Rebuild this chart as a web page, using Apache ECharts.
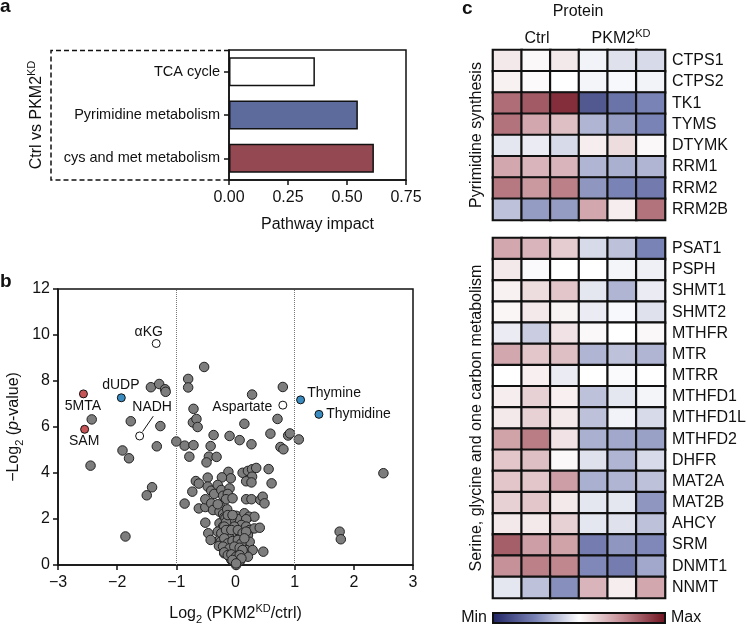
<!DOCTYPE html>
<html><head><meta charset="utf-8">
<script src="https://cdn.jsdelivr.net/npm/echarts/dist/echarts.min.js"></script>
<style>html,body{margin:0;padding:0;background:#fff}#c{width:748px;height:624px}</style>
</head><body><div id="c"></div>
<script>
// ---------- DATA ----------
const pathways = ['TCA cycle', 'Pyrimidine metabolism', 'cys and met metabolism'];
const pathwayImpact = [0.364, 0.546, 0.614];
const impactTicks = [0, 0.25, 0.5, 0.75];

// volcano: [log2 fold change, -log2 p]
const volcanoGray = [
 [-2.43,6.33],[-2.45,4.32],[-1.77,6.25],[-1.27,6.04],[-1.91,4.98],[-1.80,4.64],[-1.33,5.16],[-1.41,3.38],[-1.50,3.03],[-1.86,1.24],
 [-1.43,7.73],[-1.29,7.87],[-1.19,7.64],[-1.18,7.53],[-1.00,5.37],
 [-0.53,8.61],[-0.80,8.09],[-0.80,7.72],[0.80,7.74],[0.28,7.41],[-0.71,6.79],[-0.72,6.20],[-0.66,6.35],[-0.64,6.00],[0.15,6.14],[0.71,6.35],
 [-0.86,5.19],[-0.71,5.21],[-0.37,5.65],[-0.42,5.17],[-0.10,5.61],[0.07,5.43],[0.27,5.25],[0.59,5.71],[0.89,5.63],[0.92,5.72],[1.07,5.46],[0.76,5.13],[0.81,5.03],
 [-0.78,4.71],[-0.45,4.71],[-0.49,4.46],[-0.32,4.70],
 [-0.12,4.05],[-0.08,3.77],[0.12,4.01],[0.21,4.09],[0.28,4.16],[0.35,4.22],[0.56,4.17],[0.28,3.84],[0.18,3.64],[0.27,3.59],[0.61,3.55],
 [-0.47,3.80],[-0.23,3.81],[-0.67,3.65],[-0.62,3.54],[-0.73,3.19],[-0.86,2.67],[-0.62,2.46],[-0.51,2.52],[-0.51,2.86],[-0.51,1.84],
 [2.50,3.99],[1.76,1.45],[1.78,1.12],
 [-0.47,3.41],[-0.41,3.23],[-0.36,3.09],[-0.30,3.48],[-0.24,3.26],[-0.21,3.01],[-0.10,3.33],[-0.13,3.09],[-0.16,2.86],[-0.05,2.90],
 [0.18,2.86],[0.27,2.86],[0.42,2.83],[0.46,2.97],[0.49,2.68],
 [-0.41,2.68],[-0.38,2.39],[-0.27,2.61],[-0.27,2.32],[-0.21,2.22],[-0.14,2.42],[-0.19,2.07],[-0.10,2.10],[-0.05,1.93],[0.01,2.14],[0.06,2.00],[0.15,2.25],
 [0.23,2.10],[0.32,2.10],[0.18,1.99],
 [-0.27,1.81],[-0.21,1.67],[-0.13,1.74],[-0.05,1.59],[0.04,1.55],[0.10,1.74],[0.18,1.67],[0.24,1.52],[0.32,1.59],[0.41,1.62],
 [-0.30,1.45],[-0.21,1.30],[-0.16,1.45],[-0.07,1.30],[0.01,1.38],[0.08,1.38],[0.15,1.23],[0.21,1.30],
 [-0.27,1.09],[-0.19,1.01],[-0.10,1.16],[-0.02,1.01],[0.07,1.01],[0.12,0.87],[0.24,1.01],
 [-0.24,0.80],[-0.16,0.72],[-0.07,0.65],[0.01,0.72],[0.10,0.65],[0.18,0.65],[0.29,0.65],
 [-0.19,0.51],[-0.10,0.36],[-0.02,0.43],[0.07,0.39],[0.15,0.51],[0.21,0.36],
 [-0.07,0.22],[0.01,0.14],[0.08,0.19],[0.01,0.00],
 [-0.46,1.38],[-0.42,1.09],[0.47,0.58],
 [-0.17,2.03],[-0.07,2.03],[-0.16,1.86],[-0.19,1.67],[-0.02,1.67],
 [-0.24,1.38],[-0.16,1.52],[-0.07,1.52],[0.04,1.52],[0.12,1.38],[0.18,1.45],
 [-0.25,1.01],[-0.19,1.16],[-0.13,0.94],[-0.05,1.04],[0.04,1.09],[0.10,0.94],[0.15,1.16],
 [-0.28,0.83],[-0.21,0.80],[-0.10,0.72],[-0.02,0.80],[0.07,0.75],[0.12,0.65],
 [-0.19,0.55],[-0.13,0.43],[-0.07,0.46],[0.01,0.36],[0.07,0.43],[0.10,0.29],[-0.05,0.22],[0.01,0.07],
 [-0.30,2.64],[-0.13,2.17],[-0.05,2.17]
];
const volcanoRed = [['5MTA',-2.57,7.44],['SAM',-2.55,5.90]];
const volcanoBlue = [['dUDP',-1.93,7.27],['Thymine',1.10,7.18],['Thymidine',1.41,6.55]];
const volcanoOpen = [['αKG',-1.34,9.63],['NADH',-1.62,5.61],['Aspartate',0.80,6.95]];
const foldThresholds = [-1, 1];

// heatmap (relative expression, -1 = min, 1 = max); columns: Ctrl x3, PKM2KD x3
const heatColumns = ['Ctrl 1','Ctrl 2','Ctrl 3','KD 1','KD 2','KD 3'];
const pyrGenes = ['CTPS1','CTPS2','TK1','TYMS','DTYMK','RRM1','RRM2','RRM2B'];
const pyrValues = [
 [0.10,0.03,0.10,-0.05,-0.12,-0.15],
 [0.06,0.02,0.00,-0.04,-0.03,-0.05],
 [0.62,0.70,0.88,-0.72,-0.58,-0.50],
 [0.60,0.38,0.28,-0.30,-0.40,-0.50],
 [-0.10,-0.08,-0.15,0.08,0.15,0.03],
 [0.38,0.32,0.32,-0.30,-0.32,-0.30],
 [0.58,0.45,0.55,-0.42,-0.50,-0.54],
 [-0.25,-0.40,-0.40,0.38,0.08,0.60]
];
const sgocGenes = ['PSAT1','PSPH','SHMT1','SHMT2','MTHFR','MTR','MTRR','MTHFD1','MTHFD1L','MTHFD2','DHFR','MAT2A','MAT2B','AHCY','SRM','DNMT1','NNMT'];
const sgocValues = [
 [0.38,0.32,0.22,-0.15,-0.25,-0.50],
 [0.10,-0.02,0.00,0.00,-0.04,-0.06],
 [0.06,0.15,0.25,-0.10,-0.30,-0.08],
 [0.04,0.10,0.05,-0.08,-0.03,-0.12],
 [-0.08,-0.20,0.12,0.03,0.00,0.03],
 [0.38,0.25,0.28,-0.30,-0.25,-0.30],
 [0.00,0.07,-0.08,0.00,-0.02,0.00],
 [0.08,0.20,0.07,-0.25,-0.10,-0.04],
 [0.10,0.20,0.10,-0.25,-0.05,-0.15],
 [0.40,0.56,0.12,-0.32,-0.35,-0.38],
 [0.25,0.28,0.03,-0.12,-0.30,-0.15],
 [0.25,0.25,0.42,-0.32,-0.30,-0.25],
 [0.20,0.25,0.10,-0.10,-0.10,-0.42],
 [0.10,0.10,0.20,-0.10,-0.12,-0.25],
 [0.68,0.42,0.40,-0.53,-0.42,-0.48],
 [0.48,0.55,0.52,-0.48,-0.53,-0.35],
 [-0.10,-0.25,-0.45,0.32,0.08,0.38]
];
const colorScaleLabels = ['Min', 'Max'];

// ---------- STYLE ----------
const FONT = '"Liberation Sans", Arial, Helvetica, sans-serif';
const INK = '#111';
const barColors = ['#ffffff', '#5d6a9c', '#944851'];
const heatColors = ['#1f2363', '#7a83b5', '#ffffff', '#c48c94', '#6e101d'];
const SPECIAL_SIZE = 8;
const labelOffsets = {
  '5MTA':[0,13], 'SAM':[0,12], 'dUDP':[0,-12], 'Thymine':[34,-6], 'Thymidine':[40,0],
  'αKG':[-7,-11], 'NADH':[13,-28], 'Aspartate':[-40,2]
};
const minus = v => (v < 0 ? '\u2212' + Math.abs(v) : String(v));

function axisBase(extra) {
  return Object.assign({
    axisLine: {show: true, onZero: false, lineStyle: {color: INK, width: 1.5}},
    axisTick: {show: true, length: 5, lineStyle: {color: INK, width: 1.5}},
    axisLabel: {color: INK, fontSize: 16, fontFamily: FONT},
    splitLine: {show: false}
  }, extra);
}
const nameStyle = {
  fontSize: 16, color: INK, fontFamily: FONT, lineHeight: 22,
  rich: {
    sub: {fontSize: 11, verticalAlign: 'bottom', lineHeight: 13, color: INK, fontFamily: FONT},
    sup: {fontSize: 11, verticalAlign: 'top', lineHeight: 13, color: INK, fontFamily: FONT},
    it: {fontSize: 16, fontStyle: 'italic', color: INK, fontFamily: FONT, lineHeight: 22}
  }
};

function specialSeries(list, fill) {
  const half = SPECIAL_SIZE / 2;
  return {
    type: 'scatter', xAxisIndex: 1, yAxisIndex: 1, symbolSize: SPECIAL_SIZE,
    itemStyle: {color: fill, borderColor: INK, borderWidth: 1, opacity: 1},
    z: 5,
    data: list.map(d => {
      const o = labelOffsets[d[0]];
      return {
        name: d[0], value: [d[1], d[2]],
        label: {show: true, position: [half + o[0], half + o[1]], align: 'center', verticalAlign: 'middle',
                formatter: '{b}', color: INK, fontSize: 14, fontFamily: FONT, opacity: 1}
      };
    }),
    emphasis: {disabled: true}
  };
}

function heatData(values) {
  const out = [];
  values.forEach((row, r) => row.forEach((v, c) => out.push([c, r, v])));
  return out;
}

const chart = echarts.init(document.getElementById('c'), null, {renderer: 'canvas'});
const cbar = {x: 493, y: 613, w: 172, h: 10};
const gridBase = {containLabel: false, outerBoundsMode: 'none'};
const option = {
  animation: false,
  backgroundColor: '#fff',
  textStyle: {fontFamily: FONT, color: INK},
  grid: [
    Object.assign({left: 229, top: 50, width: 177, height: 130, show: true, borderColor: INK, borderWidth: 1.5}, gridBase),
    Object.assign({left: 58, top: 289, width: 355, height: 276, show: true, borderColor: INK, borderWidth: 1.5}, gridBase),
    Object.assign({left: 493, top: 50, width: 172, height: 170}, gridBase),
    Object.assign({left: 493, top: 238, width: 172, height: 360}, gridBase)
  ],
  xAxis: [
    axisBase({gridIndex: 0, type: 'value', min: impactTicks[0], max: impactTicks[3], interval: 0.25,
      axisLabel: {color: INK, fontSize: 16, fontFamily: FONT, margin: 10, formatter: v => v.toFixed(2)},
      name: 'Pathway impact', nameLocation: 'middle', nameGap: 34, nameTextStyle: nameStyle}),
    axisBase({gridIndex: 1, type: 'value', min: -3, max: 3, interval: 1,
      axisLabel: {color: INK, fontSize: 16, fontFamily: FONT, margin: 10, formatter: minus},
      name: 'Log{sub|2} (PKM2{sup|KD}/ctrl)', nameLocation: 'middle', nameGap: 38, nameTextStyle: nameStyle}),
    {gridIndex: 2, type: 'category', data: heatColumns, show: false},
    {gridIndex: 3, type: 'category', data: heatColumns, show: false}
  ],
  yAxis: [
    axisBase({gridIndex: 0, type: 'category', data: pathways, inverse: true,
      axisTick: {show: true, alignWithLabel: true, length: 5, lineStyle: {color: INK, width: 1.5}},
      axisLabel: {color: INK, fontSize: 14.5, fontFamily: FONT, margin: 9},
      name: 'Ctrl vs PKM2{sup|KD}', nameLocation: 'middle', nameGap: 181, nameRotate: 90, nameTextStyle: nameStyle}),
    axisBase({gridIndex: 1, type: 'value', min: 0, max: 12, interval: 2,
      axisLabel: {color: INK, fontSize: 16, fontFamily: FONT, margin: 8},
      name: '\u2212Log{sub|2} ({it|p}-value)', nameLocation: 'middle', nameGap: 33, nameRotate: 90, nameTextStyle: nameStyle}),
    {gridIndex: 2, type: 'category', data: pyrGenes, inverse: true, position: 'right',
      axisLine: {show: false}, axisTick: {show: false},
      axisLabel: {color: INK, fontSize: 16, fontFamily: FONT, margin: 7}},
    {gridIndex: 3, type: 'category', data: sgocGenes, inverse: true, position: 'right',
      axisLine: {show: false}, axisTick: {show: false},
      axisLabel: {color: INK, fontSize: 16, fontFamily: FONT, margin: 7}}
  ],
  visualMap: {
    type: 'continuous', show: false, min: -1, max: 1, seriesIndex: [5, 6],
    inRange: {color: heatColors}
  },
  series: [
    {
      type: 'bar', xAxisIndex: 0, yAxisIndex: 0, data: pathwayImpact, barWidth: '67%',
      itemStyle: {color: p => barColors[p.dataIndex], borderColor: INK, borderWidth: 1.5},
      emphasis: {disabled: true}
    },
    {
      type: 'scatter', xAxisIndex: 1, yAxisIndex: 1, symbolSize: 9.5, data: volcanoGray,
      itemStyle: {color: '#7d7d7d', borderColor: '#222', borderWidth: 1, opacity: 1},
      emphasis: {disabled: true},
      markLine: {
        silent: true, symbol: 'none', label: {show: false},
        lineStyle: {type: 'dotted', color: '#777', width: 1},
        data: foldThresholds.map(v => ({xAxis: v}))
      }
    },
    specialSeries(volcanoRed, '#c65456'),
    specialSeries(volcanoBlue, '#3a8cc0'),
    Object.assign(specialSeries(volcanoOpen, '#ffffff'), {
      markLine: {
        silent: true, symbol: 'none', label: {show: false},
        lineStyle: {type: 'solid', color: INK, width: 1},
        data: [[{coord: [-1.57, 5.80]}, {coord: [-1.39, 6.47]}]]
      }
    }),
    {
      type: 'heatmap', xAxisIndex: 2, yAxisIndex: 2, data: heatData(pyrValues),
      itemStyle: {borderColor: INK, borderWidth: 2.2}, emphasis: {disabled: true}
    },
    {
      type: 'heatmap', xAxisIndex: 3, yAxisIndex: 3, data: heatData(sgocValues),
      itemStyle: {borderColor: INK, borderWidth: 2.2}, emphasis: {disabled: true}
    }
  ],
  graphic: [
    {type: 'polyline', silent: true, z: 10,
     shape: {points: [[229, 50.5], [51, 50.5], [51, 180], [229, 180]]},
     style: {stroke: INK, lineWidth: 1.5, lineDash: [5, 3], fill: null}},
    {type: 'rect', silent: true, z: 100,
     shape: {x: cbar.x, y: cbar.y, width: cbar.w, height: cbar.h},
     style: {stroke: INK, lineWidth: 2,
             fill: new echarts.graphic.LinearGradient(0, 0, 1, 0,
               heatColors.map((c, i) => ({offset: i / (heatColors.length - 1), color: c})))}},
    {type: 'text', silent: true, x: cbar.x - 6, y: cbar.y + cbar.h / 2,
     style: {text: colorScaleLabels[0], font: '16px ' + FONT, fill: INK, textAlign: 'right', textVerticalAlign: 'middle', align: 'right', verticalAlign: 'middle'}},
    {type: 'text', silent: true, x: cbar.x + cbar.w + 6, y: cbar.y + cbar.h / 2,
     style: {text: colorScaleLabels[1], font: '16px ' + FONT, fill: INK, textAlign: 'left', textVerticalAlign: 'middle', align: 'left', verticalAlign: 'middle'}},
    {type: 'text', silent: true, x: 0, y: -3,
     style: {text: 'a', font: 'bold 19px ' + FONT, fill: INK, textAlign: 'left', textVerticalAlign: 'top', align: 'left', verticalAlign: 'top'}},
    {type: 'text', silent: true, x: 0, y: 272,
     style: {text: 'b', font: 'bold 19px ' + FONT, fill: INK, textAlign: 'left', textVerticalAlign: 'top', align: 'left', verticalAlign: 'top'}},
    {type: 'text', silent: true, x: 462, y: -1,
     style: {text: 'c', font: 'bold 19px ' + FONT, fill: INK, textAlign: 'left', textVerticalAlign: 'top', align: 'left', verticalAlign: 'top'}},
    {type: 'text', silent: true, x: 578, y: 12,
     style: {text: 'Protein', font: '16px ' + FONT, fill: INK, textAlign: 'center', textVerticalAlign: 'middle', align: 'center', verticalAlign: 'middle'}},
    {type: 'text', silent: true, x: 537, y: 39,
     style: {text: 'Ctrl', font: '16px ' + FONT, fill: INK, textAlign: 'center', textVerticalAlign: 'middle', align: 'center', verticalAlign: 'middle'}},
    {type: 'text', silent: true, x: 621, y: 39,
     style: {text: 'PKM2{sup|KD}', font: '16px ' + FONT, fill: INK, textAlign: 'center', textVerticalAlign: 'middle', align: 'center', verticalAlign: 'middle',
             lineHeight: 22,
             rich: {sup: {fontSize: 11, verticalAlign: 'top', lineHeight: 13, fontFamily: FONT, fill: INK}}}},
    {type: 'text', silent: true, x: 477, y: 135, rotation: Math.PI / 2,
     style: {text: 'Pyrimidine synthesis', font: '16px ' + FONT, fill: INK, textAlign: 'center', textVerticalAlign: 'middle', align: 'center', verticalAlign: 'middle'}},
    {type: 'text', silent: true, x: 477, y: 418, rotation: Math.PI / 2,
     style: {text: 'Serine, glycine and one carbon metabolism', font: '16px ' + FONT, fill: INK, textAlign: 'center', textVerticalAlign: 'middle', align: 'center', verticalAlign: 'middle'}}
  ]
};
chart.setOption(option);
</script></body></html>
